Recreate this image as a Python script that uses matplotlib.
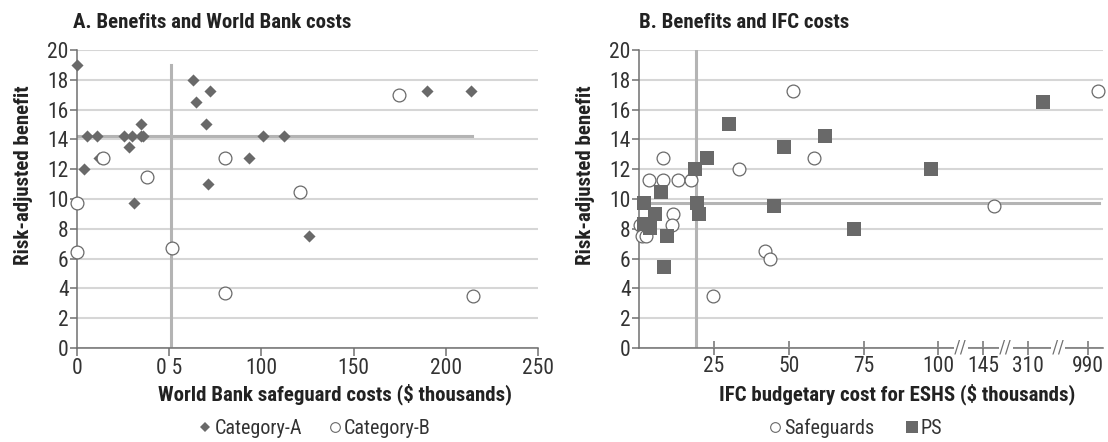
import matplotlib
matplotlib.use("Agg")
import matplotlib.pyplot as plt
import numpy as np
from matplotlib.lines import Line2D
from matplotlib import font_manager

# look for a narrow face; the reference uses a condensed grotesque
fonts = font_manager.fontManager.ttflist
names = {f.name for f in fonts}
narrow = None
for cand in ["Liberation Sans Narrow", "Roboto Condensed", "Open Sans Condensed", "DejaVu Sans Condensed"]:
    if cand in names:
        narrow = cand
        break
stretch = "normal"
if narrow is None:
    cond = [f.name for f in fonts if f.stretch in ("condensed", "semi-condensed", 75, 87)]
    if "DejaVu Sans" in cond:
        narrow, stretch = "DejaVu Sans", "condensed"
    else:
        narrow = "Liberation Sans"
plt.rcParams["font.family"] = [narrow, "DejaVu Sans"]
plt.rcParams["font.stretch"] = stretch

# panel A: World Bank costs
a_cat_a_x = [0, 3.8, 5.4, 10.7, 12, 25.5, 30, 34.6, 36, 28.4, 34.6, 31, 63, 64.5, 71.9, 70, 71.2, 93, 101, 112.5, 126, 190, 213.6]
a_cat_a_y = [19, 12, 14.25, 14.25, 12.75, 14.25, 14.25, 14.25, 14.25, 13.5, 15, 9.75, 18, 16.5, 17.25, 15, 11, 12.75, 14.25, 14.25, 7.5, 17.25, 17.25]
a_cat_b_x = [0, 0, 14, 38, 51.7, 80, 80.4, 120.7, 174.5, 214.7]
a_cat_b_y = [9.75, 6.45, 12.75, 11.5, 6.7, 12.75, 3.7, 10.5, 17, 3.5]
a_ref_cost = 51
a_ref_benefit = 14.25
a_xticks = [0, 50, 100, 150, 200, 250]
a_xticklabels = ["0", "0 5", "100", "150", "200", "250"]

# panel B: IFC costs (broken axis)
b_safe_x = [0.5, 0.9, 2.2, 3.3, 8.1, 8.1, 12.9, 17.3, 11.4, 11.1, 33.4, 24.8, 42, 43.6, 51.6, 58.3, 186, 1124]
b_safe_y = [8.25, 7.5, 7.5, 11.25, 12.75, 11.25, 11.25, 11.25, 9.0, 8.25, 12.0, 3.5, 6.5, 6.0, 17.25, 12.75, 9.5, 17.25]
b_ps_x = [1.7, 1.7, 3.7, 5.4, 7.3, 9.4, 8.4, 18.7, 19.4, 20.0, 22.8, 30.1, 48.4, 45.1, 62.1, 71.8, 97.4, 483]
b_ps_y = [9.75, 8.3, 8.05, 9.0, 10.5, 7.5, 5.45, 12.0, 9.75, 9.0, 12.75, 15.0, 13.5, 9.5, 14.25, 8.0, 12.0, 16.5]
b_ref_cost = 19
b_ref_benefit = 9.75
b_xticks = [25, 50, 75, 100, 145, 310, 990]

# piecewise scale for the broken axis
knots_val = [0, 100, 145, 310, 990, 1200]
knots_pos = [0, 100, 115, 130, 150, 155]

def fwd(v):
    return np.interp(v, knots_val, knots_pos)

def inv(p):
    return np.interp(p, knots_pos, knots_val)

dark = "#696969"
light = "#b4b4b4"
grid = "#d6d6d6"
spine = "#707070"
txt = "#333333"
bold_c = "#222222"
tick_fs = 15.5
bold_fs = 15

fig = plt.figure(figsize=(11.08, 4.42), dpi=100)
axA = fig.add_axes([0.0695, 0.2127, 0.4161, 0.6742])
axB = fig.add_axes([0.5767, 0.2127, 0.4188, 0.6742])

for ax, lx in ((axA, -0.0965), (axB, -0.094)):
    ax.set_ylim(0, 20)
    ax.set_yticks(range(0, 21, 2))
    ax.yaxis.grid(True, color=grid, lw=1.5)
    ax.set_axisbelow(True)
    for s in ("top", "right"):
        ax.spines[s].set_visible(False)
    for s in ("left", "bottom"):
        ax.spines[s].set_color(spine)
        ax.spines[s].set_linewidth(1.1)
    ax.tick_params(axis="y", colors=spine, labelcolor=txt, labelsize=tick_fs, length=5, width=1.1, pad=1)
    ax.set_ylabel("Risk-adjusted benefit", fontsize=bold_fs, fontweight="bold", color=bold_c)
    ax.yaxis.set_label_coords(lx, 0.58)

# panel A
axA.set_xlim(0, 250)
axA.set_xticks(a_xticks)
axA.set_xticklabels(a_xticklabels)
axA.tick_params(axis="x", colors=spine, labelcolor=txt, labelsize=tick_fs, length=6, width=1.1, pad=1)
axA.plot([a_ref_cost, a_ref_cost], [0, 19], color=light, lw=2.2, zorder=1)
axA.plot([0, 214], [a_ref_benefit, a_ref_benefit], color=light, lw=2.2, zorder=1)
axA.scatter(a_cat_a_x, a_cat_a_y, marker="D", s=38, color=dark, lw=0, zorder=3, clip_on=False)
axA.scatter(a_cat_b_x, a_cat_b_y, marker="o", s=85, facecolor="white", edgecolor=dark, lw=0.9, zorder=3, clip_on=False)
axA.set_title("A. Benefits and World Bank costs", loc="left", fontsize=bold_fs, fontweight="bold", color=bold_c, x=-0.008, pad=16)

# panel B
axB.set_xscale("function", functions=(fwd, inv))
axB.set_xlim(0, 1200)
axB.set_xticks(b_xticks)
axB.set_xticklabels([str(t) for t in b_xticks])
axB.tick_params(axis="x", direction="inout", colors=spine, labelcolor=txt, labelsize=tick_fs, length=10, width=1.1, pad=1)
axB.plot([b_ref_cost, b_ref_cost], [0, 20], color=light, lw=2.2, zorder=1)
axB.plot([0, 1150], [b_ref_benefit, b_ref_benefit], color=light, lw=2.2, zorder=1)
axB.scatter(b_safe_x, b_safe_y, marker="o", s=85, facecolor="white", edgecolor=dark, lw=0.9, zorder=3, clip_on=False)
axB.scatter(b_ps_x, b_ps_y, marker="s", s=95, color=dark, lw=0, zorder=4, clip_on=False)
axB.set_title("B. Benefits and IFC costs", loc="left", fontsize=bold_fs, fontweight="bold", color=bold_c, x=0.0, pad=16)

# break marks between the compressed ticks
breaks = [inv((fwd(a) + fwd(b)) / 2) for a, b in zip(b_xticks[3:-1], b_xticks[4:])]
for bx in breaks:
    axB.text(bx, 0, "//", transform=axB.get_xaxis_transform(), ha="center", va="center",
             fontsize=13, color=spine, zorder=5, clip_on=False,
             bbox=dict(boxstyle="square,pad=0.02", fc="white", ec="none"))

# x labels
fig.text(0.302, 0.108, "World Bank safeguard costs ($ thousands)", ha="center", va="center",
         fontsize=bold_fs, fontweight="bold", color=bold_c)
fig.text(0.81, 0.108, "IFC budgetary cost for ESHS ($ thousands)", ha="center", va="center",
         fontsize=bold_fs, fontweight="bold", color=bold_c)

# legends
hA = [Line2D([], [], marker="D", ls="", color=dark, ms=5.5, mew=0, label="Category-A"),
      Line2D([], [], marker="o", ls="", mfc="white", mec=dark, ms=7, mew=0.8, label="Category-B")]
fig.legend(handles=hA, loc="center", bbox_to_anchor=(0.284, 0.03), ncol=2, frameon=False,
           fontsize=14.5, handletextpad=0.1, columnspacing=1.3, handlelength=0.7, labelcolor=txt)
hB = [Line2D([], [], marker="o", ls="", mfc="white", mec=dark, ms=7, mew=0.8, label="Safeguards"),
      Line2D([], [], marker="s", ls="", color=dark, ms=9, mew=0, label="PS")]
fig.legend(handles=hB, loc="center", bbox_to_anchor=(0.772, 0.03), ncol=2, frameon=False,
           fontsize=14.5, handletextpad=0.1, columnspacing=1.5, handlelength=0.7, labelcolor=txt)

fig.savefig("out.png", dpi=100)
